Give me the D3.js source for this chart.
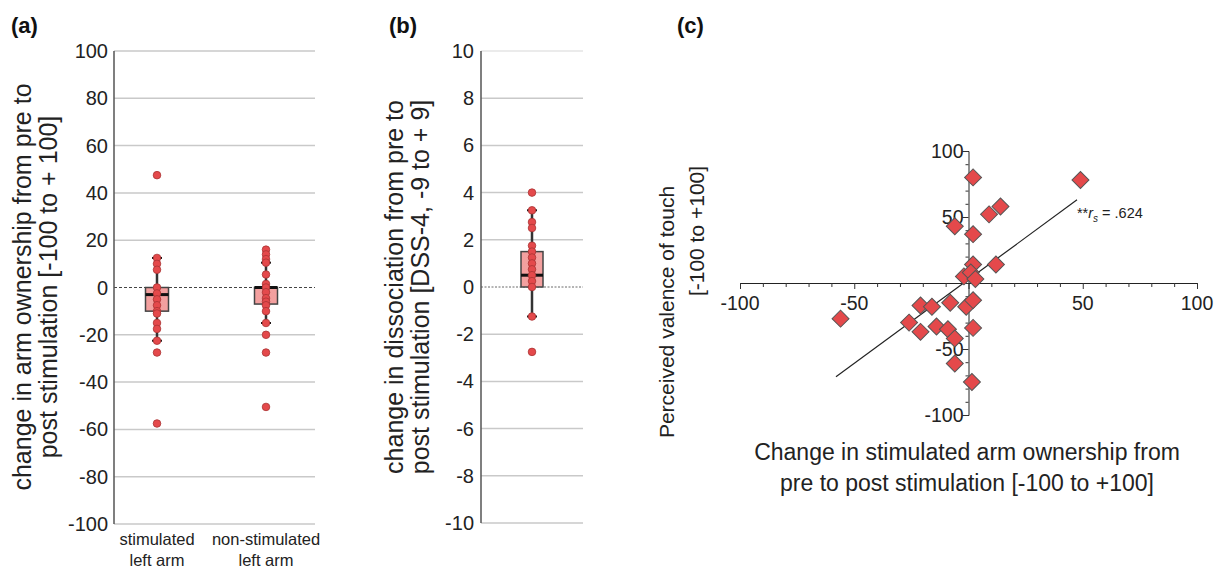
<!DOCTYPE html>
<html>
<head>
<meta charset="utf-8">
<script src="https://cdn.jsdelivr.net/npm/d3@7"></script>
<style>
  html, body { margin: 0; padding: 0; background: #fff; }
  svg { display: block; font-family: "Liberation Sans", Arial, sans-serif; }
</style>
</head>
<body>
<svg id="chart" width="1219" height="571"></svg>
<script>
// ---- data ----
const armCategories = [["stimulated", "left arm"], ["non-stimulated", "left arm"]];
const armTicks = [-100, -80, -60, -40, -20, 0, 20, 40, 60, 80, 100];
const armQ1 = [-10, -7];
const armMedian = [-3, 0];
const armQ3 = [0, 0];
const armWhiskerLo = [-22.5, -15];
const armWhiskerHi = [12.5, 10.5];
const stimulatedPoints = [47.5, 12.5, 10, 7.5, 0, -2.5, -5, -7.5, -10, -11, -15, -17.5, -22.5, -27.5, -57.5];
const nonStimulatedPoints = [16, 14, 12, 10.5, 5.5, 1.5, 0, -2, -4.5, -6, -7.5, -10, -15, -20, -27.5, -50.5];

const dssTicks = [-10, -8, -6, -4, -2, 0, 2, 4, 6, 8, 10];
const dssBox = [0, 0.5, 1.5];          // q1, median, q3
const dssWhiskers = [-1.25, 3.25];
const dssPoints = [4, 3.25, 2.75, 2.5, 1.75, 1.5, 1.25, 1, 0.75, 0.5, 0.25, 0, -1.25, -2.75];

const scatterTicks = [-100, -50, 50, 100];
const ownershipChange = [2, 49, 9, 14, -6, 2, 2, 12, -2, 1, 3, -21, -16, -8, -1, 2, -26, -21, -14, -9, -6, 2, -6, 1.5, -56];
const touchValence = [80, 78, 52, 58, 43, 37, 14, 14, 5, 8, 3, -17, -18, -15, -18, -13, -30, -37, -33, -35, -42, -34, -61, -75, -27];
const fitX = [-58, 47.5];
const fitY = [-71, 63];

const red = "#e4494b";
const boxFill = "#f3a09f";
const grid = "#c9c9c9";

const svg = d3.select("#chart");

// ---------- panel (a) ----------
const yA = d3.scaleLinear().domain([-100, 100]).range([524, 51]);
const xA = d3.scalePoint().domain(d3.range(armCategories.length)).range([157, 266]);
const gA = svg.append("g");

gA.selectAll("line.grid").data(armTicks.filter(t => t !== 0)).join("line")
    .attr("x1", 114).attr("x2", 315)
    .attr("y1", d => yA(d)).attr("y2", d => yA(d))
    .attr("stroke", grid).attr("stroke-width", 1.5);
gA.append("line").attr("x1", 114).attr("x2", 315).attr("y1", yA(0)).attr("y2", yA(0))
    .attr("stroke", "#444").attr("stroke-dasharray", "3,2");
gA.append("line").attr("x1", 114).attr("x2", 114).attr("y1", yA(100)).attr("y2", yA(-100))
    .attr("stroke", "#555").attr("stroke-width", 1.5);
gA.selectAll("text.tick").data(armTicks).join("text")
    .attr("x", 108).attr("y", d => yA(d)).attr("dy", "0.35em")
    .attr("text-anchor", "end").attr("font-size", 20).attr("fill", "#222")
    .text(d => d);

armCategories.forEach((lines, i) => {
    lines.forEach((s, j) => {
        gA.append("text").attr("x", xA(i)).attr("y", 545 + j * 21)
            .attr("text-anchor", "middle").attr("font-size", 16.5).attr("fill", "#222").text(s);
    });
});

function drawBox(g, x, y, q1, med, q3, lo, hi, pts, hw) {
    g.append("line").attr("x1", x).attr("x2", x).attr("y1", y(hi)).attr("y2", y(lo))
        .attr("stroke", "#333").attr("stroke-width", 2.5);
    [lo, hi].forEach(v => g.append("line").attr("x1", x - 5).attr("x2", x + 5)
        .attr("y1", y(v)).attr("y2", y(v)).attr("stroke", "#111").attr("stroke-width", 2));
    g.append("rect").attr("x", x - hw).attr("width", hw * 2)
        .attr("y", y(q3)).attr("height", Math.max(1, y(q1) - y(q3)))
        .attr("fill", boxFill).attr("stroke", "#444").attr("stroke-width", 1.5);
    g.append("line").attr("x1", x - hw).attr("x2", x + hw).attr("y1", y(med)).attr("y2", y(med))
        .attr("stroke", "#111").attr("stroke-width", 3);
    g.selectAll(null).data(pts).join("circle")
        .attr("cx", x).attr("cy", d => y(d)).attr("r", 3.8)
        .attr("fill", red).attr("stroke", "#a33").attr("stroke-width", 0.8);
}

[stimulatedPoints, nonStimulatedPoints].forEach((pts, i) => {
    drawBox(gA, xA(i), yA, armQ1[i], armMedian[i], armQ3[i], armWhiskerLo[i], armWhiskerHi[i], pts, 11.5);
});

// ---------- panel (b) ----------
const yB = d3.scaleLinear().domain([-10, 10]).range([523, 51]);
const gB = svg.append("g");
gB.selectAll("line.grid").data(dssTicks.filter(t => t !== 0)).join("line")
    .attr("x1", 481).attr("x2", 583)
    .attr("y1", d => yB(d)).attr("y2", d => yB(d))
    .attr("stroke", d => d === 10 ? "#e4e4e4" : grid).attr("stroke-width", 1.5);
gB.append("line").attr("x1", 481).attr("x2", 583).attr("y1", yB(0)).attr("y2", yB(0))
    .attr("stroke", "#444").attr("stroke-dasharray", "2,1.5").attr("stroke-width", 0.8);
gB.append("line").attr("x1", 481).attr("x2", 481).attr("y1", yB(10)).attr("y2", yB(-10))
    .attr("stroke", "#555").attr("stroke-width", 1.5);
gB.selectAll("text.tick").data(dssTicks).join("text")
    .attr("x", 474).attr("y", d => yB(d)).attr("dy", "0.35em")
    .attr("text-anchor", "end").attr("font-size", 20).attr("fill", "#222")
    .text(d => d);
drawBox(gB, 532, yB, dssBox[0], dssBox[1], dssBox[2], dssWhiskers[0], dssWhiskers[1], dssPoints, 11);

// ---------- axis titles (a), (b) ----------
function vtitle(x, y, s, size) {
    svg.append("text").attr("transform", `translate(${x},${y}) rotate(-90)`)
        .attr("text-anchor", "middle").attr("dy", "0.35em")
        .attr("font-size", size).attr("fill", "#222").text(s);
}
vtitle(22, 287, "change in arm ownership from pre to", 25);
vtitle(48, 287, "post stimulation [-100 to + 100]", 25);
vtitle(394, 287, "change in dissociation from pre to", 25);
vtitle(420, 287, "post stimulation [DSS-4, -9 to + 9]", 25);

// ---------- panel (c) ----------
const xC = d3.scaleLinear().domain([-100, 100]).range([740, 1197]);
const yC = d3.scaleLinear().domain([-100, 100]).range([415, 151]);
const gC = svg.append("g");

const xAxis = d3.axisBottom(xC).tickValues(d3.range(-100, 101, 10)).tickSize(4).tickFormat("");
gC.append("g").attr("transform", `translate(0,${yC(0)})`).call(xAxis)
    .call(g => g.select(".domain").attr("stroke", "#222"))
    .call(g => g.selectAll(".tick line").attr("stroke", "#333")
        .attr("y2", d => d % 50 === 0 ? 6 : 4));
const yAxis = d3.axisLeft(yC).tickValues(d3.range(-100, 101, 10)).tickSize(3).tickFormat("");
gC.append("g").attr("transform", `translate(${xC(0)},0)`).call(yAxis)
    .call(g => g.select(".domain").attr("stroke", "#222"))
    .call(g => g.selectAll(".tick line").attr("stroke", "#333")
        .attr("x2", d => d % 50 === 0 ? -6 : -3));

gC.selectAll("text.xt").data(scatterTicks).join("text")
    .attr("x", d => xC(d)).attr("y", yC(0) + 27)
    .attr("text-anchor", "middle").attr("font-size", 19.5).attr("fill", "#222").text(d => d);
gC.selectAll("text.yt").data(scatterTicks).join("text")
    .attr("x", xC(0) - 5).attr("y", d => yC(d)).attr("dy", "0.35em")
    .attr("text-anchor", "end").attr("font-size", 19.5).attr("fill", "#222").text(d => d);

gC.append("line")
    .attr("x1", xC(fitX[0])).attr("y1", yC(fitY[0]))
    .attr("x2", xC(fitX[1])).attr("y2", yC(fitY[1]))
    .attr("stroke", "#222").attr("stroke-width", 1.2);

const diamond = d3.symbol(d3.symbolSquare, 144);
gC.selectAll("path.pt").data(ownershipChange.map((x, i) => [x, touchValence[i]])).join("path")
    .attr("transform", d => `translate(${xC(d[0])},${yC(d[1])}) rotate(45)`)
    .attr("d", diamond)
    .attr("fill", red).attr("stroke", "#555").attr("stroke-width", 1);

const ann = gC.append("text").attr("x", xC(47) + 1).attr("y", yC(49))
    .attr("font-size", 14.5).attr("fill", "#222");
ann.append("tspan").text("**");
ann.append("tspan").attr("font-style", "italic").text("r");
ann.append("tspan").attr("font-style", "italic").attr("font-size", 10).attr("dy", 4).text("s");
ann.append("tspan").attr("dy", -4).text(" = .624");

vtitle(667, 312, "Perceived valence of touch", 21);
vtitle(697, 231, "[-100 to +100]", 21);
svg.append("text").attr("x", 967).attr("y", 460).attr("text-anchor", "middle")
    .attr("font-size", 23).attr("fill", "#222").text("Change in stimulated arm ownership from");
svg.append("text").attr("x", 967).attr("y", 491).attr("text-anchor", "middle")
    .attr("font-size", 23).attr("fill", "#222").text("pre to post stimulation [-100 to +100]");

// ---------- panel letters ----------
[["(a)", 11], ["(b)", 389], ["(c)", 677]].forEach(([s, x]) => {
    svg.append("text").attr("x", x).attr("y", 33).attr("font-size", 22)
        .attr("font-weight", "bold").attr("fill", "#111").text(s);
});
</script>
</body>
</html>
